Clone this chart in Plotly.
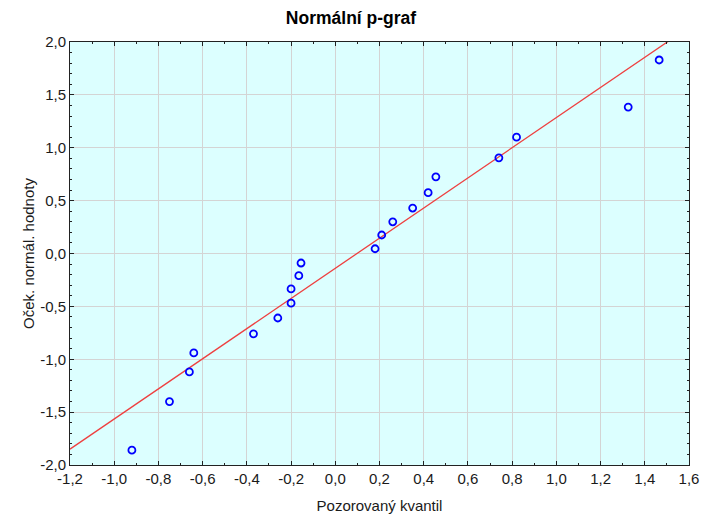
"""Normal probability plot (Normální p-graf) recreated with Plotly."""

import plotly.graph_objects as go

observed = [-0.92, -0.75, -0.66, -0.64, -0.37, -0.26, -0.20, -0.20, -0.165, -0.155,
            0.18, 0.21, 0.26, 0.35, 0.42, 0.455, 0.74, 0.82, 1.325, 1.465]
expected = [-1.86, -1.40, -1.12, -0.94, -0.76, -0.61, -0.47, -0.335, -0.21, -0.09,
            0.045, 0.175, 0.30, 0.43, 0.575, 0.725, 0.905, 1.10, 1.385, 1.83]

# fitted reference line
fit_intercept = -0.14
fit_slope = 1.425

x_ticks = [-1.2, -1.0, -0.8, -0.6, -0.4, -0.2, 0.0, 0.2, 0.4, 0.6, 0.8, 1.0, 1.2, 1.4, 1.6]
y_ticks = [-2.0, -1.5, -1.0, -0.5, 0.0, 0.5, 1.0, 1.5, 2.0]

FONT = "Liberation Sans, Arial, sans-serif"


def _lbl(v):
    return f"{v:.1f}".replace(".", ",")


x_range = [x_ticks[0], x_ticks[-1]]
line_x = x_range
line_y = [fit_intercept + fit_slope * v for v in line_x]

fig = go.Figure()
fig.add_trace(
    go.Scatter(
        x=line_x,
        y=line_y,
        mode="lines",
        line={"color": "#ee4040", "width": 1.3},
        hoverinfo="skip",
    )
)
fig.add_trace(
    go.Scatter(
        x=observed,
        y=expected,
        mode="markers",
        marker={
            "symbol": "circle-open",
            "size": 7,
            "color": "#0000ff",
            "line": {"width": 1.8, "color": "#0000ff"},
        },
    )
)

axis_common = dict(
    showline=True,
    linecolor="#222222",
    linewidth=1,
    mirror="ticks",
    ticks="inside",
    ticklen=4,
    tickcolor="#222222",
    showgrid=True,
    gridcolor="#d4d4d4",
    gridwidth=1,
    zeroline=False,
    automargin=False,
    tickfont={"family": FONT, "size": 15, "color": "#1a1a1a"},
    tickmode="array",
)

fig.update_xaxes(
    **axis_common,
    range=x_range,
    tickvals=x_ticks,
    ticktext=[_lbl(v) for v in x_ticks],
    minor={"dtick": 0.1, "tick0": 0, "ticks": "inside", "ticklen": 2, "tickcolor": "#222222", "showgrid": False},
    title={"text": "Pozorovaný kvantil", "font": {"family": FONT, "size": 15, "color": "#1a1a1a"}, "standoff": 14},
)
fig.update_yaxes(
    **axis_common,
    range=[y_ticks[0], y_ticks[-1]],
    tickvals=y_ticks,
    ticktext=[_lbl(v) for v in y_ticks],
    minor={"dtick": 0.1, "tick0": 0, "ticks": "inside", "ticklen": 2, "tickcolor": "#222222", "showgrid": False},
    title={"text": "Oček. normál. hodnoty", "font": {"family": FONT, "size": 15, "color": "#1a1a1a"}, "standoff": 1},
)

fig.update_layout(
    width=702,
    height=517,
    title={
        "text": "<b>Normální p-graf</b>",
        "x": 0.5,
        "xanchor": "center",
        "y": 0.965,
        "yanchor": "middle",
        "font": {"family": FONT, "size": 17.5, "color": "#000000"},
    },
    paper_bgcolor="white",
    plot_bgcolor="#dcffff",
    margin={"l": 70, "r": 13, "t": 42, "b": 52},
    showlegend=False,
)

fig.write_html(
    "out.html",
    config={"displayModeBar": False},
    post_script="document.body.style.margin='0';document.body.style.overflow='hidden';",
)
